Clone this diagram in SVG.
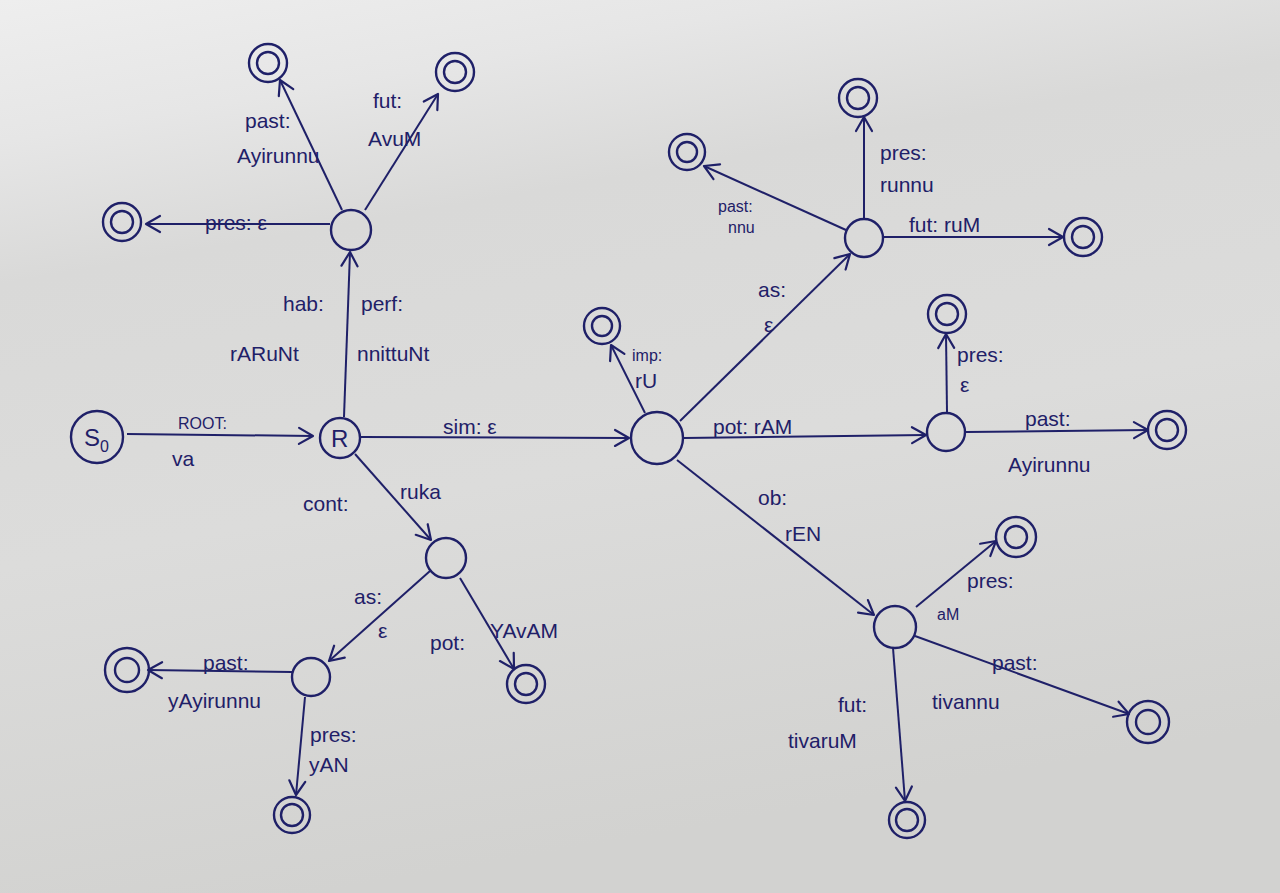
<svg xmlns="http://www.w3.org/2000/svg" width="1280" height="893" viewBox="0 0 1280 893">
<defs>
<linearGradient id="bg" x1="0" y1="0" x2="0.25" y2="1">
<stop offset="0" stop-color="#eeeeee"/>
<stop offset="0.15" stop-color="#e6e6e6"/>
<stop offset="0.3" stop-color="#d9d9d8"/>
<stop offset="0.6" stop-color="#dcdcdb"/>
<stop offset="1" stop-color="#d2d2d0"/>
</linearGradient>
<marker id="arr" viewBox="0 0 20 20" refX="18" refY="10" markerWidth="20" markerHeight="20" markerUnits="userSpaceOnUse" orient="auto">
<path d="M4,2 L18,10 L4,18" fill="none" stroke="#1f2068" stroke-width="2.2" stroke-linecap="round" stroke-linejoin="round"/>
</marker>
<style>
.st{fill:none;stroke:#1f2068;stroke-width:2.4}
.e{fill:none;stroke:#1f2068;stroke-width:2;marker-end:url(#arr)}
text{font-family:"Liberation Sans","DejaVu Sans",sans-serif;fill:#1f2068;font-size:21px}
.s{font-size:16px}
.n{font-size:24px}
</style>
</defs>
<rect width="1280" height="893" fill="url(#bg)"/>

<g id="connectors">
<line class="e" x1="127" y1="434" x2="313" y2="436"/>
<line class="e" x1="344" y1="417" x2="350" y2="252"/>
<line class="e" x1="330" y1="224" x2="146" y2="224"/>
<line class="e" x1="342" y1="210" x2="280" y2="80"/>
<line class="e" x1="365" y1="210" x2="438" y2="94"/>
<line class="e" x1="361" y1="437" x2="629" y2="438"/>
<line class="e" x1="645" y1="413" x2="611" y2="345"/>
<line class="e" x1="680" y1="421" x2="850" y2="254"/>
<line class="e" x1="864" y1="219" x2="864" y2="117"/>
<line class="e" x1="846" y1="230" x2="704" y2="166"/>
<line class="e" x1="884" y1="237" x2="1063" y2="237"/>
<line class="e" x1="684" y1="438" x2="926" y2="435"/>
<line class="e" x1="947" y1="412" x2="946" y2="334"/>
<line class="e" x1="966" y1="432" x2="1148" y2="430"/>
<line class="e" x1="677" y1="460" x2="874" y2="615"/>
<line class="e" x1="916" y1="607" x2="996" y2="541"/>
<line class="e" x1="915" y1="636" x2="1129" y2="714"/>
<line class="e" x1="893" y1="648" x2="905" y2="801"/>
<line class="e" x1="355" y1="454" x2="431" y2="540"/>
<line class="e" x1="430" y1="571" x2="329" y2="661"/>
<line class="e" x1="460" y1="578" x2="514" y2="669"/>
<line class="e" x1="292" y1="672" x2="148" y2="670"/>
<line class="e" x1="305" y1="697" x2="296" y2="795"/>
</g>

<g id="edge-labels">
<text class="s" x="178" y="429">ROOT:</text>
<text x="172" y="466">va</text>
<text x="283" y="311">hab:</text>
<text x="230" y="361">rARuNt</text>
<text x="361" y="311">perf:</text>
<text x="357" y="361">nnittuNt</text>
<text x="205" y="230">pres: ε</text>
<text x="245" y="128">past:</text>
<text x="237" y="163">Ayirunnu</text>
<text x="373" y="108">fut:</text>
<text x="368" y="146">AvuM</text>
<text x="443" y="434">sim: ε</text>
<text class="s" x="632" y="361">imp:</text>
<text x="635" y="388">rU</text>
<text x="758" y="297">as:</text>
<text x="764" y="332">ε</text>
<text x="880" y="160">pres:</text>
<text x="880" y="192">runnu</text>
<text class="s" x="718" y="212">past:</text>
<text class="s" x="728" y="233">nnu</text>
<text x="909" y="232">fut: ruM</text>
<text x="713" y="434">pot: rAM</text>
<text x="957" y="362">pres:</text>
<text x="960" y="392">ε</text>
<text x="1025" y="426">past:</text>
<text x="1008" y="472">Ayirunnu</text>
<text x="758" y="505">ob:</text>
<text x="785" y="541">rEN</text>
<text x="967" y="588">pres:</text>
<text class="s" x="937" y="620">aM</text>
<text x="992" y="670">past:</text>
<text x="932" y="709">tivannu</text>
<text x="838" y="712">fut:</text>
<text x="788" y="748">tivaruM</text>
<text x="303" y="511">cont:</text>
<text x="400" y="499">ruka</text>
<text x="354" y="604">as:</text>
<text x="378" y="638">ε</text>
<text x="430" y="650">pot:</text>
<text x="490" y="638">YAvAM</text>
<text x="203" y="670">past:</text>
<text x="168" y="708">yAyirunnu</text>
<text x="310" y="742">pres:</text>
<text x="309" y="772">yAN</text>
</g>

<g id="S0"><circle class="st" cx="97" cy="437" r="26"/><text class="n" x="84" y="446">S</text><text class="s" x="100" y="452">0</text></g>
<g id="R"><circle class="st" cx="340" cy="438" r="20"/><text class="n" x="331" y="447">R</text></g>
<g id="q-perf"><circle class="st" cx="351" cy="230" r="20"/></g>
<g id="f-perf-past"><circle class="st" cx="268" cy="63" r="19"/><circle class="st" cx="268" cy="63" r="11"/></g>
<g id="f-perf-fut"><circle class="st" cx="455" cy="72" r="19"/><circle class="st" cx="455" cy="72" r="11"/></g>
<g id="f-perf-pres"><circle class="st" cx="122" cy="222" r="19"/><circle class="st" cx="122" cy="222" r="11"/></g>
<g id="q-sim"><circle class="st" cx="657" cy="438" r="26"/></g>
<g id="f-imp"><circle class="st" cx="602" cy="326" r="18"/><circle class="st" cx="602" cy="326" r="10"/></g>
<g id="q-as"><circle class="st" cx="864" cy="238" r="19"/></g>
<g id="f-as-pres"><circle class="st" cx="858" cy="98" r="19"/><circle class="st" cx="858" cy="98" r="11"/></g>
<g id="f-as-past"><circle class="st" cx="687" cy="152" r="18"/><circle class="st" cx="687" cy="152" r="10"/></g>
<g id="f-as-fut"><circle class="st" cx="1083" cy="237" r="19"/><circle class="st" cx="1083" cy="237" r="11"/></g>
<g id="q-pot"><circle class="st" cx="946" cy="432" r="19"/></g>
<g id="f-pot-pres"><circle class="st" cx="947" cy="314" r="19"/><circle class="st" cx="947" cy="314" r="11"/></g>
<g id="f-pot-past"><circle class="st" cx="1167" cy="430" r="19"/><circle class="st" cx="1167" cy="430" r="11"/></g>
<g id="q-ob"><circle class="st" cx="895" cy="627" r="21"/></g>
<g id="f-ob-pres"><circle class="st" cx="1016" cy="537" r="20"/><circle class="st" cx="1016" cy="537" r="11"/></g>
<g id="f-ob-past"><circle class="st" cx="1148" cy="722" r="21"/><circle class="st" cx="1148" cy="722" r="12"/></g>
<g id="f-ob-fut"><circle class="st" cx="907" cy="820" r="18"/><circle class="st" cx="907" cy="820" r="11"/></g>
<g id="q-cont"><circle class="st" cx="446" cy="558" r="20"/></g>
<g id="q-cont-as"><circle class="st" cx="311" cy="677" r="19"/></g>
<g id="f-cont-past"><circle class="st" cx="127" cy="670" r="22"/><circle class="st" cx="127" cy="670" r="12"/></g>
<g id="f-cont-pres"><circle class="st" cx="292" cy="815" r="18"/><circle class="st" cx="292" cy="815" r="11"/></g>
<g id="f-cont-pot"><circle class="st" cx="526" cy="684" r="19"/><circle class="st" cx="526" cy="684" r="11"/></g>
</svg>
